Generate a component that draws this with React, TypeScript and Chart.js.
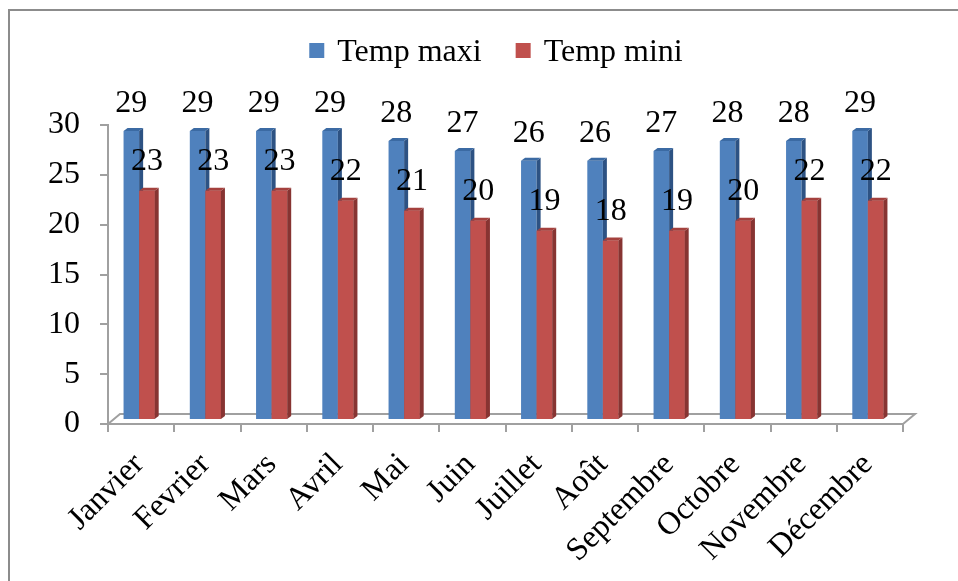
import React, { useEffect, useRef } from 'react';
import { Chart, registerables } from 'chart.js';

Chart.register(...registerables);

// ---- data ----
const categories = ['Janvier', 'Fevrier', 'Mars', 'Avril', 'Mai', 'Juin', 'Juillet', 'Août', 'Septembre', 'Octobre', 'Novembre', 'Décembre'];
const tempMaxi = [29, 29, 29, 29, 28, 27, 26, 26, 27, 28, 28, 29];
const tempMini = [23, 23, 23, 22, 21, 20, 19, 18, 19, 20, 22, 22];
const seriesLabels = ['Temp maxi', 'Temp mini'];
const yTicks = [0, 5, 10, 15, 20, 25, 30];

// ---- styles ----
const FONT = "'Liberation Serif', 'Times New Roman', serif";
const FONT_SIZE = 32;
const frontColors = ['#4F81BD', '#C0504D'];
const sideColors = ['#2D5283', '#873432'];
const topColors = ['#3B6AA3', '#A4403D'];
const AXIS_GRAY = '#A0A0A0';
const SHIFT_X = -2;
const SHIFT_Y = -4;
const DX = 4;
const DY = 3;

const floorPlugin = {
  id: 'floor3d',
  beforeDatasetsDraw(chart: any) {
    const { ctx, chartArea } = chart;
    const l = chartArea.left, r = chartArea.right, b = chartArea.bottom;
    ctx.save();
    ctx.strokeStyle = AXIS_GRAY;
    ctx.lineWidth = 2;
    ctx.beginPath();
    ctx.moveTo(l, b);
    ctx.lineTo(l + 12, b - 10);
    ctx.lineTo(r + 12, b - 10);
    ctx.lineTo(r, b);
    ctx.stroke();
    ctx.restore();
    ctx.save();
    ctx.translate(SHIFT_X, SHIFT_Y);
  },
  afterDatasetsDraw(chart: any) {
    const ctx = chart.ctx;
    chart.data.datasets.forEach((ds: any, i: number) => {
      const meta = chart.getDatasetMeta(i);
      meta.data.forEach((el: any) => {
        const { x, y, base, width } = el.getProps(['x', 'y', 'base', 'width'], true);
        const x0 = x - width / 2;
        const x1 = x + width / 2;
        if (i > 0) {
          ctx.fillStyle = frontColors[i];
          ctx.fillRect(x0, y, width, base - y);
        }
        ctx.fillStyle = sideColors[i];
        ctx.beginPath();
        ctx.moveTo(x1, y);
        ctx.lineTo(x1 + DX, y - DY);
        ctx.lineTo(x1 + DX, base - DY);
        ctx.lineTo(x1, base);
        ctx.closePath();
        ctx.fill();
        ctx.fillStyle = topColors[i];
        ctx.beginPath();
        ctx.moveTo(x0, y);
        ctx.lineTo(x0 + DX, y - DY);
        ctx.lineTo(x1 + DX, y - DY);
        ctx.lineTo(x1, y);
        ctx.closePath();
        ctx.fill();
      });
    });
    ctx.fillStyle = '#000';
    ctx.font = `${FONT_SIZE}px ${FONT}`;
    ctx.textAlign = 'center';
    ctx.textBaseline = 'middle';
    chart.data.datasets.forEach((ds: any, i: number) => {
      const meta = chart.getDatasetMeta(i);
      meta.data.forEach((el: any, j: number) => {
        const { x, y } = el.getProps(['x', 'y'], true);
        ctx.fillText(String(ds.data[j]), x, y - (i === 0 ? 27 : 29));
      });
    });
    ctx.restore();
  },
};

const legendPlugin = {
  id: 'customLegend',
  afterDraw(chart: any) {
    const ctx = chart.ctx;
    ctx.save();
    ctx.font = `${FONT_SIZE}px ${FONT}`;
    const box = 15, gapText = 13, gapItem = 34;
    const items = chart.data.datasets.map((ds: any, i: number) => ({
      label: ds.label,
      color: frontColors[i],
      w: ctx.measureText(ds.label).width,
    }));
    const total = items.reduce((s: number, it: any) => s + box + gapText + it.w, 0) + gapItem * (items.length - 1);
    let x = 496 - total / 2;
    ctx.textAlign = 'left';
    ctx.textBaseline = 'alphabetic';
    items.forEach((it: any) => {
      ctx.fillStyle = it.color;
      ctx.fillRect(x, 43, box, box);
      ctx.fillStyle = '#000';
      ctx.fillText(it.label, x + box + gapText, 61);
      x += box + gapText + it.w + gapItem;
    });
    ctx.restore();
  },
};

export default function App() {
  const ref = useRef<HTMLCanvasElement>(null);
  useEffect(() => {
    if (!ref.current) return;
    const chart = new Chart(ref.current, {
      type: 'bar',
      data: {
        labels: categories,
        datasets: [
          { label: seriesLabels[0], data: tempMaxi, backgroundColor: frontColors[0], borderWidth: 0 },
          { label: seriesLabels[1], data: tempMini, backgroundColor: frontColors[1], borderWidth: 0 },
        ],
      },
      options: {
        animation: false,
        responsive: false,
        devicePixelRatio: 1,
        layout: { padding: { top: 125, right: 55, left: 0, bottom: 0 } },
        datasets: { bar: { categoryPercentage: 0.47, barPercentage: 1 } } as any,
        plugins: { legend: { display: false }, tooltip: { enabled: false } },
        scales: {
          x: {
            grid: { display: true, drawOnChartArea: false, drawTicks: true, tickLength: 8, color: AXIS_GRAY, lineWidth: 2, offset: true },
            border: { display: true, color: AXIS_GRAY, width: 2 },
            ticks: {
              color: '#000',
              font: { family: FONT, size: FONT_SIZE },
              minRotation: 45,
              maxRotation: 45,
              autoSkip: false,
              padding: 14,
              labelOffset: -2,
            },
            afterFit: (s: any) => { s.height = 157; },
          },
          y: {
            min: 0,
            max: 30,
            grid: { display: true, drawOnChartArea: false, drawTicks: true, tickLength: 8, color: AXIS_GRAY, lineWidth: 2 },
            border: { display: true, color: AXIS_GRAY, width: 2 },
            ticks: { color: '#000', font: { family: FONT, size: FONT_SIZE }, padding: 20 },
            afterBuildTicks: (s: any) => { s.ticks = yTicks.map((v) => ({ value: v })); },
            afterFit: (s: any) => { s.width = 108; },
          },
        },
      },
      plugins: [floorPlugin, legendPlugin],
    });
    return () => chart.destroy();
  }, []);

  return (
    <div style={{ position: 'fixed', left: 0, top: 0, width: 958, height: 581, background: '#fff', overflow: 'hidden' }}>
      <canvas ref={ref} width={958} height={581} style={{ position: 'absolute', left: 0, top: 0 }} />
      <div
        style={{
          position: 'absolute',
          left: 8,
          top: 9,
          width: 950,
          height: 572,
          borderLeft: '2px solid #8C8C8C',
          borderTop: '2px solid #8C8C8C',
          boxSizing: 'border-box',
          pointerEvents: 'none',
        }}
      />
    </div>
  );
}
